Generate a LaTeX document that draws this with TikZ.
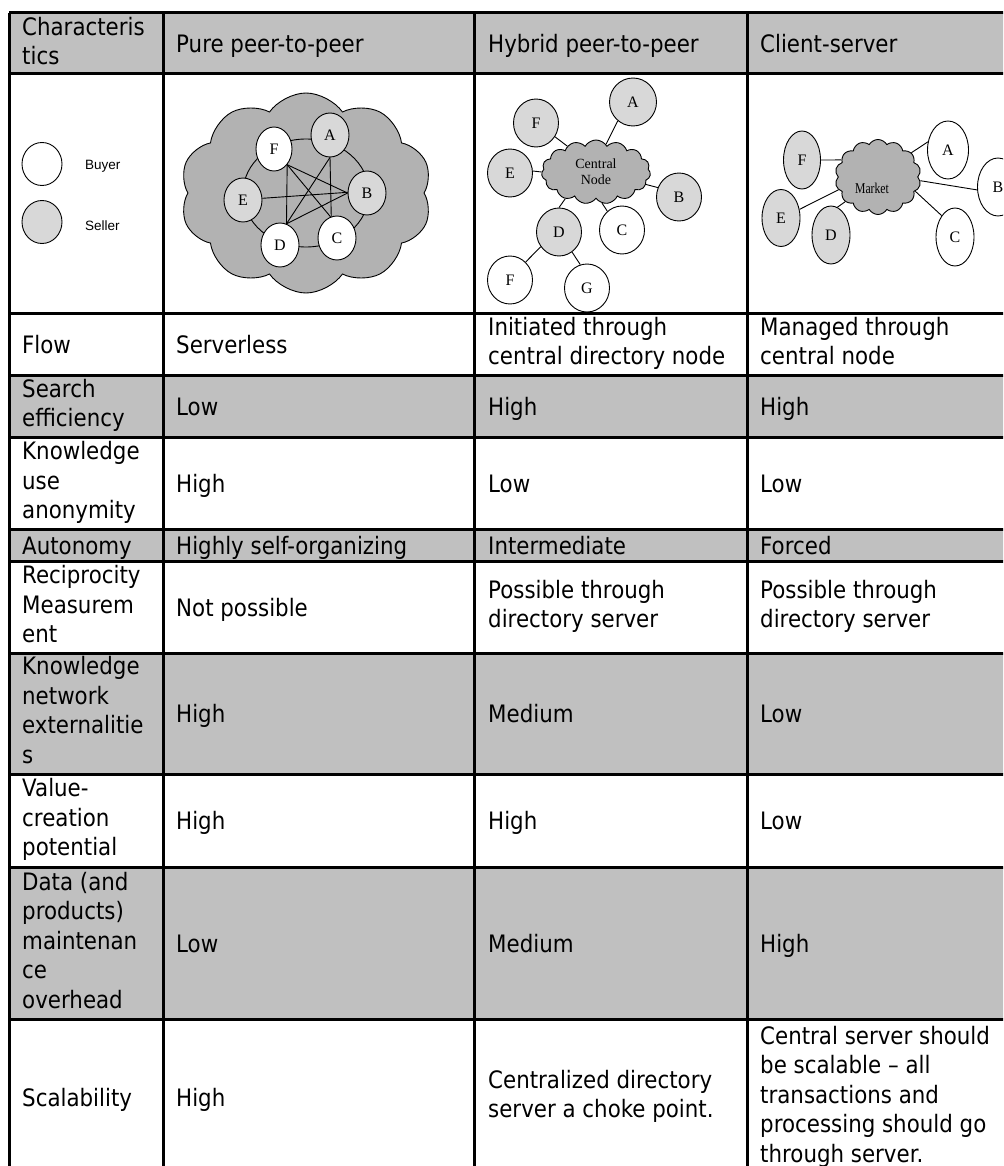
\documentclass[tikz,border=0pt]{standalone}
\usepackage{fontspec}
\setmainfont{DejaVu Sans}[FakeStretch=0.89]
\newfontfamily\nodefont{Liberation Serif}
\newfontfamily\legendfont{Liberation Sans}
\usetikzlibrary{shapes.geometric,shapes.symbols}
\definecolor{rowgray}{HTML}{C0C0C0}
\definecolor{cloudgray}{HTML}{B2B2B2}
\definecolor{sellergray}{HTML}{D8D8D8}
\newcommand\cellstrut{\vrule width0pt height24pt depth6pt}

\begin{document}
\begin{tikzpicture}[x=1pt,y=-1pt,
  cell/.style={anchor=west,align=left,inner sep=0pt,
    font=\fontsize{24}{29.5}\selectfont,
    execute at begin node=\cellstrut,execute at end node=\cellstrut},
  rule/.style={line width=3pt},
  buyer/.style={ellipse,draw,line width=0.9pt,fill=white,inner sep=0pt,
    font=\nodefont\fontsize{16}{16}\selectfont},
  seller/.style={buyer,fill=sellergray},
  link/.style={line width=0.9pt},
  netcloud/.style={cloud,cloud ignores aspect,draw,line width=0.9pt,
    fill=cloudgray,inner sep=0pt},
  legendlabel/.style={anchor=west,inner sep=0pt,
    font=\legendfont\fontsize{13.5}{13.5}\selectfont}]
\useasboundingbox (0,0) rectangle (1003,1166);
\clip (0,0) rectangle (1003,1166);

% shaded rows
\fill[rowgray] (9,13) rectangle (1030,74);
\fill[rowgray] (9,375) rectangle (1030,437);
\fill[rowgray] (9,529) rectangle (1030,561);
\fill[rowgray] (9,653) rectangle (1030,774);
\fill[rowgray] (9,867) rectangle (1030,1019);

% grid
\foreach \y in {13,74,313,375,437,529,561,653,774,867,1019,1175}
  \draw[rule] (9,\y) -- (1030,\y);
\foreach \x in {9,163,474,747,1025}
  \draw[rule] (\x,13) -- (\x,1175);

% header
\node[cell] (h1) at (22,44) {Characteris\\tics};
\node[cell] (h2) at (176,44) {Pure peer-to-peer};
\node[cell] (h3) at (488,44) {Hybrid peer-to-peer};
\node[cell] (h4) at (760,44) {Client-server};

% legend
\node[buyer,minimum width=40,minimum height=43] (lb) at (42,164) {};
\node[legendlabel] (lbt) at (85,166) {Buyer};
\node[seller,minimum width=40,minimum height=43] (ls) at (42,222) {};
\node[legendlabel] (lst) at (85,226) {Seller};

% pure peer-to-peer
\node[netcloud,cloud puffs=10,cloud puff arc=110,minimum width=252,minimum height=200] (pc) at (306,193) {};
\draw[line width=0.9pt] (306,193) ellipse[x radius=63,y radius=54];
\node[buyer,minimum width=36,minimum height=44] (pF) at (274,149) {F};
\node[seller,minimum width=38,minimum height=44] (pA) at (330,135) {A};
\node[seller,minimum width=38,minimum height=44] (pE) at (243,200) {E};
\node[seller,minimum width=38,minimum height=44] (pB) at (367,193) {B};
\node[buyer,minimum width=38,minimum height=44] (pD) at (280,245) {D};
\node[buyer,minimum width=38,minimum height=44] (pC) at (337,238) {C};
\draw[link] (pF.-50) -- (pD.73);
\draw[link] (pF.-50) -- (pB.180);
\draw[link] (pF.-50) -- (pC.107);
\draw[link] (pA.-90) -- (pD.73);
\draw[link] (pA.-90) -- (pC.105);
\draw[link] (pE.5) -- (pB.178);
\draw[link] (pD.73) -- (pB.180);

% hybrid peer-to-peer
\node[netcloud,cloud puffs=15,cloud puff arc=120,minimum width=109,minimum height=64,
  font=\nodefont\fontsize{14}{16}\selectfont,align=center] (hc) at (596,172) {Central\\Node};
\node[seller,minimum width=47,minimum height=48] (hA) at (633,102) {A};
\node[seller,minimum width=45,minimum height=48] (hF) at (536,123) {F};
\node[seller,minimum width=45,minimum height=48] (hE) at (510,173) {E};
\node[seller,minimum width=45,minimum height=48] (hB) at (679,197) {B};
\node[seller,minimum width=45,minimum height=48] (hD) at (559,232) {D};
\node[buyer,minimum width=45,minimum height=48] (hC) at (622,230) {C};
\node[buyer,minimum width=45,minimum height=48] (hF2) at (510,280) {F};
\node[buyer,minimum width=45,minimum height=48] (hG) at (587,288) {G};
\draw[link] (hA.231) -- (hc.70);
\draw[link] (hF.-36) -- (hc.138);
\draw[link] (hE.5) -- (hc.180);
\draw[link] (hB.156) -- (hc.-14);
\draw[link] (hC.128) -- (hc.-79);
\draw[link] (hD.90) -- (hc.221);
\draw[link] (hD.219) -- (hF2.49);
\draw[link] (hD.-57) -- (hG.106);

% client-server
\node[netcloud,cloud puffs=14,cloud puff arc=120,minimum width=86,minimum height=75] (mc) at (878,177) {};
\node[inner sep=0pt,font=\nodefont\fontsize{15}{15}\selectfont] (mt) at (872,188) {\scalebox{0.78}[1]{Market}};
\node[seller,minimum width=37,minimum height=58] (mF) at (802,160) {F};
\node[seller,minimum width=38,minimum height=57] (mE) at (781,218) {E};
\node[seller,minimum width=38,minimum height=58] (mD) at (831,235) {D};
\node[buyer,minimum width=41,minimum height=58] (mA) at (948,150) {A};
\node[buyer,minimum width=41,minimum height=58] (mB) at (998,187) {B};
\node[buyer,minimum width=38,minimum height=58] (mC) at (955,237) {C};
\draw[link] (mF.0) -- (mc.155);
\draw[link] (mA.158) -- (mc.36);
\draw[link] (mB.188) -- (mc.-5);
\draw[link] (mC.122) -- (mc.-21);
\draw[link] (mE.25) -- (mc.198);
\draw[link] (mD.77) -- (mc.217);

% body rows
\node[cell] (r1a) at (22,344) {Flow};
\node[cell] (r1b) at (176,344) {Serverless};
\node[cell] (r1c) at (488,344) {Initiated through\\central directory node};
\node[cell] (r1d) at (760,344) {Managed through\\central node};

\node[cell] (r2a) at (22,406) {Search\\efficiency};
\node[cell] (r2b) at (176,406) {Low};
\node[cell] (r2c) at (488,406) {High};
\node[cell] (r2d) at (760,406) {High};

\node[cell] (r3a) at (22,483) {Knowledge\\use\\anonymity};
\node[cell] (r3b) at (176,483) {High};
\node[cell] (r3c) at (488,483) {Low};
\node[cell] (r3d) at (760,483) {Low};

\node[cell] (r4a) at (22,545) {Autonomy};
\node[cell] (r4b) at (176,545) {Highly self-organizing};
\node[cell] (r4c) at (488,545) {Intermediate};
\node[cell] (r4d) at (760,545) {Forced};

\node[cell] (r5a) at (22,607) {Reciprocity\\Measurem\\ent};
\node[cell] (r5b) at (176,607) {Not possible};
\node[cell] (r5c) at (488,607) {Possible through\\directory server};
\node[cell] (r5d) at (760,607) {Possible through\\directory server};

\node[cell] (r6a) at (22,713) {Knowledge\\network\\externalitie\\s};
\node[cell] (r6b) at (176,713) {High};
\node[cell] (r6c) at (488,713) {Medium};
\node[cell] (r6d) at (760,713) {Low};

\node[cell] (r7a) at (22,820) {Value-\\creation\\potential};
\node[cell] (r7b) at (176,820) {High};
\node[cell] (r7c) at (488,820) {High};
\node[cell] (r7d) at (760,820) {Low};

\node[cell] (r8a) at (22,943) {Data (and\\products)\\maintenan\\ce\\overhead};
\node[cell] (r8b) at (176,943) {Low};
\node[cell] (r8c) at (488,943) {Medium};
\node[cell] (r8d) at (760,943) {High};

\node[cell] (r9a) at (22,1097) {Scalability};
\node[cell] (r9b) at (176,1097) {High};
\node[cell] (r9c) at (488,1097) {Centralized directory\\server a choke point.};
\node[cell] (r9d) at (760,1097) {Central server should\\be scalable – all\\transactions and\\processing should go\\through server.};
\end{tikzpicture}
\end{document}
